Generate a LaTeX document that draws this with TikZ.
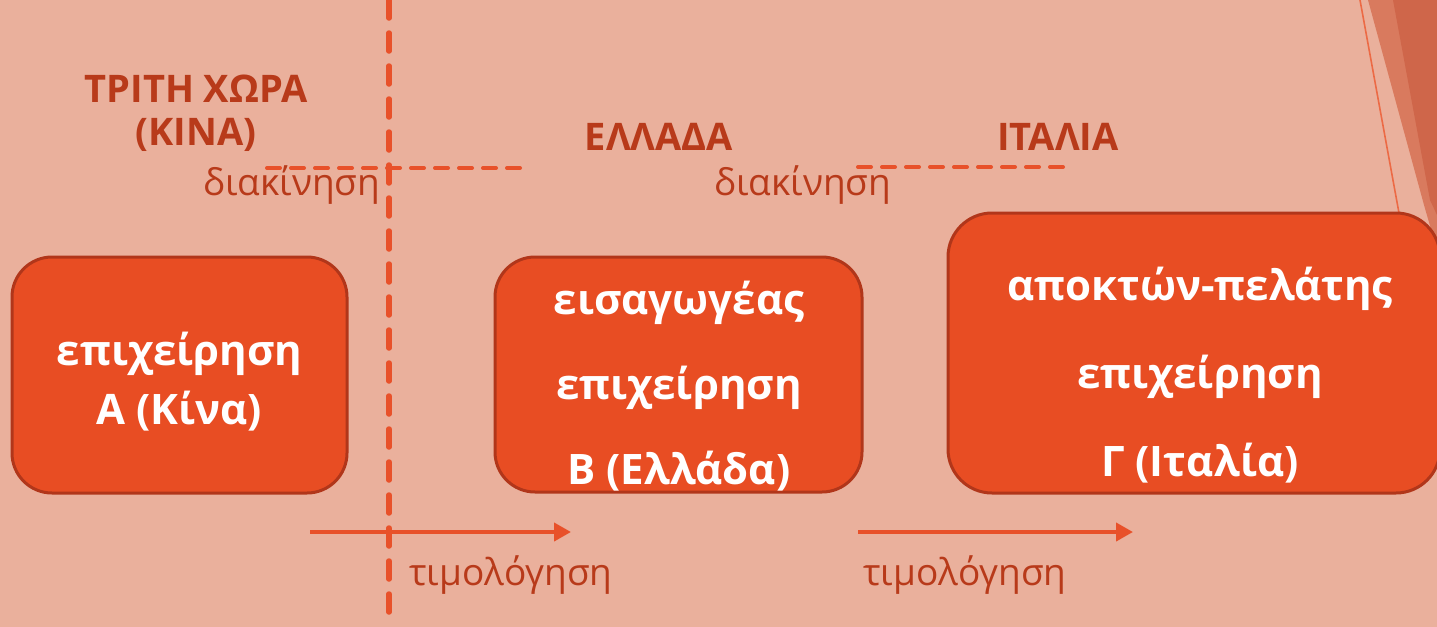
\documentclass[tikz,border=0pt]{standalone}
\usepackage{fontspec}
\setmainfont{Open Sans}
\usepackage{tikz}
\usetikzlibrary{arrows.meta, positioning}

\definecolor{bgpink}{HTML}{EAB09C}
\definecolor{boxfill}{HTML}{E84D23}
\definecolor{boxline}{HTML}{B1361A}
\definecolor{darktext}{HTML}{B83A1A}
\definecolor{dashred}{HTML}{E8512A}
\definecolor{decomid}{HTML}{D97A5E}
\definecolor{decodark}{HTML}{CF664A}
\definecolor{decoline}{HTML}{EC6A45}

\begin{document}
\begin{tikzpicture} [x = 0.5pt, y = -0.5pt,
	firm/.style = {draw = boxline, fill = boxfill, line width = 1.5pt, rounded corners = 20pt, inner sep = 0pt},
	firmtext/.style = {white, align = center, anchor = base, font = \fontsize{21}{29.5}\selectfont\bfseries},
	zone/.style = {darktext, align = center, anchor = base, font = \fontsize{19}{21.5}\selectfont\bfseries},
	flow/.style = {darktext, anchor = base, font = \fontsize{18.5}{20}\selectfont},
	border/.style = {dashred, line width = 2.75pt, line cap = round, dash pattern = on 9pt off 7.5pt},
	split/.style = {dashred, line width = 2pt, line cap = round, dash pattern = on 6.5pt off 5.5pt},
	invoice/.style = {dashred, line width = 2pt, -{Triangle[length = 8.5pt, width = 9pt]}}]
			% Background : keeps the size of the slide
			\fill [bgpink] (0,0) rectangle (1437,627);
			\useasboundingbox (0,0) rectangle (1437,627);
			% Facet corner at the top right
			\fill [decomid] (1368,0) -- (1437,0) -- (1437,250) -- (1424,205) -- cycle;
			\fill [decodark] (1393,0) -- (1437,0) -- (1437,215) -- (1430,200) -- cycle;
			\draw [decoline, line width = 0.8pt] (1360,0) -- (1399,213);
			% Border between the countries
			\coordinate (bordertop) at (389,0);
			\coordinate (borderbot) at (389,627);
			\draw [border] (bordertop) -- (borderbot);
			% Countries (base = last line)
			\node (china) [zone] at (196,145) {ΤΡΙΤΗ ΧΩΡΑ\\(ΚΙΝΑ)};
			\node (greece) [zone] at (659,150) {ΕΛΛΑΔΑ};
			\node (italy) [zone] at (1058,150) {ΙΤΑΛΙΑ};
			% Firms : A, B and C
			\node (firmA) [firm, minimum width = 167.5pt, minimum height = 118pt] at (179.5,375) {};
			\node (firmB) [firm, minimum width = 183.5pt, minimum height = 117.5pt] at (678.5,374.5) {};
			\node (firmC) [firm, minimum width = 246pt, minimum height = 140pt, rounded corners = 22pt] at (1194,353) {};
			\node (textA) [firmtext] at (179.5,424) {επιχείρηση\\Α (Κίνα)};
			\node (textB) [firmtext, font = \fontsize{21}{42.5}\selectfont\bfseries] at (679,484) {εισαγωγέας\\επιχείρηση\\Β (Ελλάδα)};
			\node (textC) [firmtext, font = \fontsize{21}{44}\selectfont\bfseries] at (1200,476) {αποκτών-πελάτης\\επιχείρηση\\Γ (Ιταλία)};
			% Flow of the goods
			\coordinate (splitAs) at (267,168);
			\coordinate (splitAe) at (523,168);
			\coordinate (splitBs) at (858,167);
			\coordinate (splitBe) at (1067,167);
			\draw [split] (splitAs) -- (splitAe);
			\draw [split] (splitBs) -- (splitBe);
			\node (moveA) [flow] at (292,195) {διακίνηση};
			\node (moveB) [flow] at (803,195) {διακίνηση};
			% Invoices
			\coordinate (billAs) at (310,532);
			\coordinate (billAe) at (571,532);
			\coordinate (billBs) at (858,532);
			\coordinate (billBe) at (1133,532);
			\draw [invoice] (billAs) -- (billAe);
			\draw [invoice] (billBs) -- (billBe);
			\node (billA) [flow] at (511,585) {τιμολόγηση};
			\node (billB) [flow] at (965,585) {τιμολόγηση};
		\end{tikzpicture}
\end{document}
